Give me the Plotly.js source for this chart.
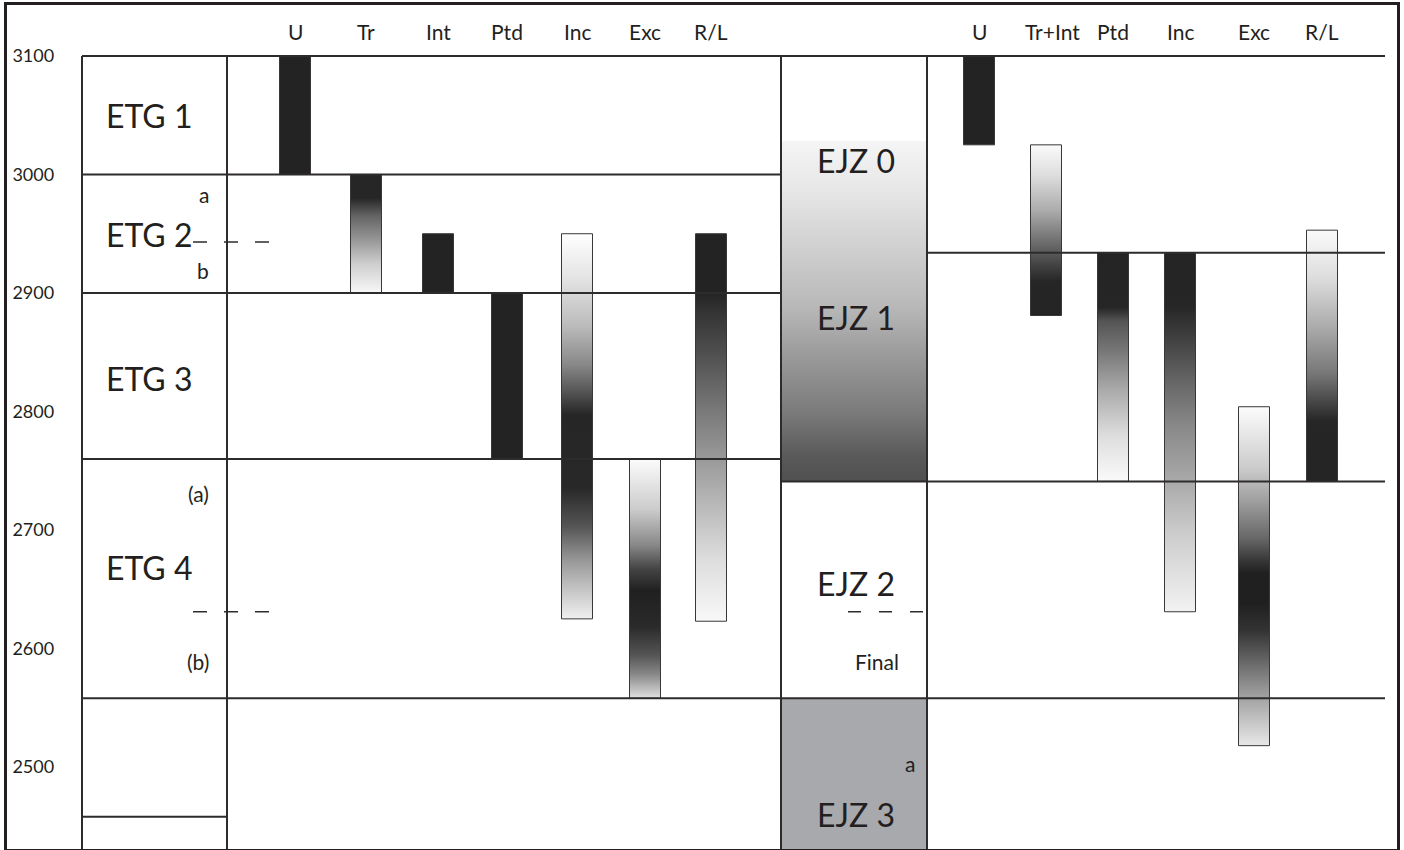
<!DOCTYPE html>
<html><head><meta charset="utf-8">
<script src="https://cdn.plot.ly/plotly-3.0.1.min.js"></script>
<style>html,body{margin:0;padding:0;background:#fff}#chart{width:1404px;height:850px}</style>
</head><body><div id="chart"></div>
<script>
// ---------------- data ----------------
const depthTicks = [2500, 2600, 2700, 2800, 2900, 3000, 3100];

const etgLabels = ['ETG 1', 'ETG 2', 'ETG 3', 'ETG 4'];
const etgLabelDepth = [3050, 2949, 2828, 2668];
const etgBoundaries = [3000, 2900, 2760];
const topDepth = 3100;
const baseBoundary = 2558;
const etgLowerLine = 2458;
const etgSubLabels = ['a', 'b', '(a)', '(b)'];
const etgSubDepth = [2983, 2919, 2731, 2589];
const etgDashDepth = [2943, 2631];

const leftCols = ['U', 'Tr', 'Int', 'Ptd', 'Inc', 'Exc', 'R/L'];
const leftTop = [3100, 3000, 2950, 2900, 2950, 2760, 2950];
const leftBase = [3000, 2900, 2900, 2760, 2625, 2558, 2623];
// grey level stops, [fraction from top, grey 0-255]
const leftShade = [
  [[0, 35], [1, 35]],
  [[0, 38], [0.2, 38], [0.35, 100], [0.55, 150], [0.75, 205], [1, 248]],
  [[0, 35], [1, 35]],
  [[0, 35], [1, 35]],
  [[0, 255], [0.11, 229], [0.24, 187], [0.34, 136], [0.41, 85], [0.47, 38], [0.66, 40], [0.76, 85], [0.85, 153], [1, 240]],
  [[0, 252], [0.21, 204], [0.36, 136], [0.46, 68], [0.55, 32], [0.7, 42], [0.82, 85], [0.9, 136], [1, 225]],
  [[0, 35], [0.15, 35], [0.2, 51], [0.33, 85], [0.45, 119], [0.58, 153], [0.71, 187], [0.84, 221], [1, 248]]
];

const rightCols = ['U', 'Tr+Int', 'Ptd', 'Inc', 'Exc', 'R/L'];
const rightTop = [3100, 3025, 2934, 2934, 2804, 2953];
const rightBase = [3025, 2881, 2741, 2631, 2518, 2741];
const rightShade = [
  [[0, 35], [1, 35]],
  [[0, 250], [0.18, 221], [0.39, 170], [0.54, 119], [0.7, 68], [0.8, 38], [1, 36]],
  [[0, 36], [0.24, 38], [0.3, 85], [0.43, 119], [0.6, 170], [0.8, 221], [1, 250]],
  [[0, 36], [0.15, 38], [0.25, 68], [0.36, 102], [0.48, 136], [0.64, 170], [0.78, 204], [1, 242]],
  [[0, 252], [0.18, 204], [0.29, 153], [0.39, 102], [0.46, 51], [0.49, 32], [0.58, 32], [0.66, 51], [0.75, 102], [0.84, 153], [1, 232]],
  [[0, 250], [0.19, 221], [0.39, 170], [0.57, 119], [0.69, 68], [0.76, 38], [1, 36]]
];

const ejzLabels = ['EJZ 0', 'EJZ 1', 'EJZ 2', 'EJZ 3'];
const ejzLabelDepth = [3012, 2879, 2655, 2460];
const ejzBounds = [3100, 2741, 2558, 2400];
const ejzShade = [[0, 255], [0.2, 255], [0.201, 245], [0.32, 230], [0.45, 208], [0.59, 184], [0.71, 153], [0.84, 122], [0.94, 90], [1, 80]];
const ejzRightLine = 2934;
const ejzDashDepth = 2631;
const ejzNotes = ['Final', 'a'];
const ejzNoteDepth = [2589, 2503];

// ---------------- layout positions / styles ----------------
const X0 = 7, X1 = 1397;
const etgL = 82, etgR = 227, ejzL = 781, ejzR = 927, lineEnd = 1385;
const leftColX = [295, 366, 438, 507, 577, 645, 711];
const rightColX = [979, 1046, 1113, 1180, 1254, 1322];
const ejzNoteX = [901, 917];
const barW = 31;
const ink = '#231f20';
const lineCol = '#2e2b2c';
const FONT = 'Lato, "Open Sans", sans-serif';
const yRange = [2430.8, 3143.0];
const bottomY = 2400;

function grey(g) { return 'rgb(' + g + ',' + g + ',' + g + ')'; }
function scaleFromTop(stops) {
  // colorscale measured from the bottom of the shape
  return stops.map(s => [1 - s[0], grey(s[1])]).reverse();
}
function rectTrace(cx, w, top, base, stops, outline) {
  return {
    type: 'scatter', mode: 'lines',
    x: [cx - w / 2, cx + w / 2, cx + w / 2, cx - w / 2, cx - w / 2],
    y: [top, top, base, base, top],
    fill: 'toself',
    fillgradient: {type: 'vertical', colorscale: scaleFromTop(stops), start: base, stop: top},
    line: {color: outline ? '#3a3738' : 'rgba(0,0,0,0)', width: outline ? 1 : 0},
    hoverinfo: 'skip', showlegend: false
  };
}

const traces = [];
// EJZ column
traces.push(rectTrace((ejzL + ejzR) / 2, ejzR - ejzL, ejzBounds[0], ejzBounds[1], ejzShade, false));
traces.push({
  type: 'scatter', mode: 'lines',
  x: [ejzL, ejzR, ejzR, ejzL, ejzL],
  y: [ejzBounds[2], ejzBounds[2], ejzBounds[3], ejzBounds[3], ejzBounds[2]],
  fill: 'toself', fillcolor: '#a7a9ac', line: {width: 0, color: 'rgba(0,0,0,0)'},
  hoverinfo: 'skip', showlegend: false
});
leftCols.forEach((c, i) => traces.push(rectTrace(leftColX[i], barW, leftTop[i], leftBase[i], leftShade[i], true)));
rightCols.forEach((c, i) => traces.push(rectTrace(rightColX[i], barW, rightTop[i], rightBase[i], rightShade[i], true)));

// ---------------- shapes ----------------
const shapes = [];
function hline(x0, x1, y, w, dash) {
  shapes.push({type: 'line', xref: 'x', yref: 'y', x0: x0, x1: x1, y0: y, y1: y,
    line: {color: lineCol, width: w || 2, dash: dash || 'solid'}, layer: 'above'});
}
function vline(x, y0, y1, w) {
  shapes.push({type: 'line', xref: 'x', yref: 'y', x0: x, x1: x, y0: y0, y1: y1,
    line: {color: lineCol, width: w || 2}, layer: 'above'});
}
hline(etgL, lineEnd, topDepth);
etgBoundaries.forEach(d => hline(etgL, ejzL, d));
hline(etgL, lineEnd, baseBoundary);
hline(etgL, etgR, etgLowerLine);
hline(ejzL, lineEnd, ejzBounds[1]);
hline(ejzR, lineEnd, ejzRightLine);
[etgL, etgR, ejzL, ejzR].forEach(x => vline(x, topDepth, bottomY));
etgDashDepth.forEach(d => hline(193, 270, d, 1.6, '14px,17px'));
hline(848, ejzR, ejzDashDepth, 1.6, '13px,18px');

// ---------------- annotations ----------------
const ann = [];
function txt(x, y, t, size, anchor) {
  ann.push({xref: 'x', yref: 'y', x: x, y: y, text: t, showarrow: false,
    xanchor: anchor || 'center', yanchor: 'middle',
    font: {family: FONT, size: size, color: ink}});
}
const headDepth = 3121;
leftCols.forEach((c, i) => txt(leftColX[i], headDepth, c, 21));
rightCols.forEach((c, i) => txt(rightColX[i] + (c === 'Tr+Int' ? 6 : 0), headDepth, c, 21));
etgLabels.forEach((t, i) => txt(104, etgLabelDepth[i], t, 32, 'left'));
etgSubLabels.forEach((t, i) => txt(211, etgSubDepth[i], t, 21, 'right'));
ejzLabels.forEach((t, i) => txt((ejzL + ejzR) / 2 + 2, ejzLabelDepth[i], t, 32));
ejzNotes.forEach((t, i) => txt(ejzNoteX[i], ejzNoteDepth[i], t, 21, 'right'));

const layout = {
  width: 1404, height: 850,
  margin: {l: X0, r: 1404 - X1, t: 5, b: 1, pad: 0},
  paper_bgcolor: '#ffffff', plot_bgcolor: '#ffffff',
  showlegend: false,
  xaxis: {range: [X0, X1], showgrid: false, zeroline: false, showticklabels: false, ticks: '',
    showline: true, mirror: true, linecolor: ink, linewidth: 3, fixedrange: true},
  yaxis: {range: yRange, showgrid: false, zeroline: false, tickvals: depthTicks,
    ticktext: depthTicks.map(String), ticks: '', ticklabelposition: 'inside', ticklabelstandoff: 6,
    tickfont: {family: FONT, size: 18, color: ink},
    showline: true, mirror: true, linecolor: ink, linewidth: 3, fixedrange: true},
  shapes: shapes,
  annotations: ann
};

Plotly.newPlot('chart', traces, layout, {staticPlot: true, displayModeBar: false});
</script></body></html>
